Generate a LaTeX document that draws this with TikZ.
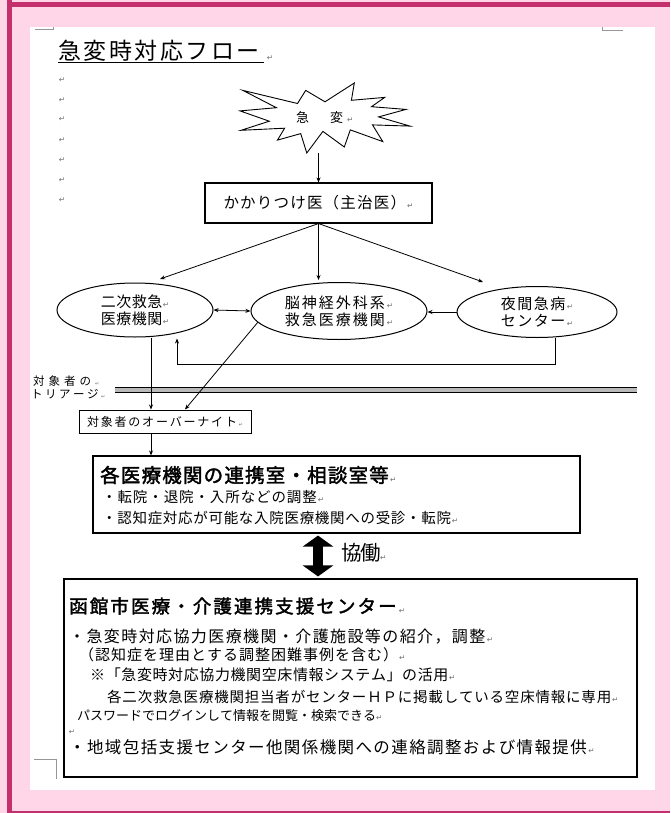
\documentclass[tikz,border=0pt]{standalone}
\usepackage{fontspec}
\usetikzlibrary{arrows.meta,shapes.geometric,calc}
\newfontfamily\jp{Noto Sans CJK JP}
\newfontfamily\jpb[FakeBold=2]{Noto Sans CJK JP}
\newfontfamily\dv{DejaVu Sans}
\definecolor{pinkbg}{RGB}{255,214,232}
\definecolor{framec}{RGB}{196,48,110}
\definecolor{retc}{RGB}{110,110,110}
\definecolor{markc}{RGB}{150,150,150}
\newlength\jspcw
\def\jspcend{}
\newcommand\jspc[2]{\setlength\jspcw{#1}\jspcloop#2\jspcend}
\def\jspcloop#1{\ifx#1\jspcend\else\makebox[\jspcw][l]{#1}\expandafter\jspcloop\fi}
\newcommand\retm[1][7.5]{{\dv\fontsize{#1}{#1}\selectfont\color{retc}↵}}
\tikzset{
 arr/.style={-{Stealth[length=5pt,width=4pt]}, line width=0.8pt},
 arrtwo/.style={{Stealth[length=5pt,width=4pt]}-{Stealth[length=5pt,width=4pt]}, line width=0.8pt},
 boxn/.style={draw, line width=1.1pt, rectangle, inner sep=0},
 ell/.style={draw, ellipse, line width=1pt, inner sep=0, align=center, font={\jp\fontsize{15}{17}\selectfont}},
 tx/.style={anchor=west, inner sep=0},
 retn/.style={inner sep=0},
 cmark/.style={draw=markc, line width=0.8pt},
}
\begin{document}
\begin{tikzpicture}[x=1pt,y=-1pt]
\useasboundingbox (0,0) rectangle (670,813);
\fill[pinkbg] (0,0) rectangle (670,813);
\draw[framec, line width=5pt] (9.5,0) -- (9.5,813);
\draw[framec, line width=5pt] (7,4.5) -- (670,4.5);
\draw[framec, line width=2pt] (7,812) -- (670,812);
\fill[white] (30,27) rectangle (655,790);
% corner marks
\draw[cmark] (35,29.5) -- (53,29.5) -- (53,27);
\draw[cmark] (602,27) -- (602,30) -- (623,30);
\draw[cmark] (34,759) -- (56,759) -- (56,779);
% title
\node[tx] (title) at (58,51) {\fontsize{23}{23}\selectfont\jp\jspc{25.5pt}{急変時対応フロー}};
\draw[line width=0.8pt] (58,62) -- (264,62);
\node[retn] (tret) at (270,58) {\retm};
\foreach \yy [count=\i] in {80,100,119,140,160,180,200} \node[retn] (lr\i) at (62,\yy) {\retm};
% starburst
\node[minimum width=170pt, minimum height=70pt, inner sep=0] (star) at (325,118) {};
\draw[line width=0.9pt, fill=white] (325.0,101.8) -- (305.7,90.4) -- (297.5,103.5) -- (242.9,90.4) -- (276.4,107.7) -- (240,110.9) -- (269.3,121.2) -- (241.1,130.3) -- (284.6,128.2) -- (277.5,140.1) -- (300.7,133.6) -- (306.8,153.0) -- (322.9,131.4) -- (344.3,147.0) -- (350.3,129.9) -- (382.8,141.6) -- (372.5,124.9) -- (410.0,126.1) -- (378.6,116.9) -- (406.0,109.4) -- (371.5,106.7) -- (384.7,97.4) -- (351.4,100.3) -- (354.3,83.0) -- cycle;
\node[tx] (startxt) at (296,118) {\fontsize{13}{13}\selectfont\jp\jspc{17pt}{急　変}\retm};
% primary doctor
\node[boxn, minimum width=227pt, minimum height=40pt] (kk) at (318.5,203) {\fontsize{15.5}{15.5}\selectfont\jp\jspc{16.7pt}{かかりつけ医（主治医）}\retm};
\draw[arr] (star.south -| kk.north) -- (kk.north);
% ellipses
\node[ell, minimum width=156pt, minimum height=54pt] (e1) at (135,310) {\jspc{15.5pt}{二次救急}\retm\\\jspc{15.5pt}{医療機関}\retm};
\node[ell, minimum width=176pt, minimum height=57pt] (e2) at (339,311) {\jspc{17pt}{脳神経外科系}\retm\\\jspc{17pt}{救急医療機関}\retm};
\node[ell, minimum width=160pt, minimum height=51pt] (e3) at (537,312) {\jspc{16.5pt}{夜間急病}\retm\\\jspc{16.5pt}{センター}\retm};
\coordinate (a1) at (160,279);
\coordinate (a2) at (318.5,280);
\coordinate (a3) at (483,282);
\draw[arr] (kk.south) -- (a1);
\draw[arr] (kk.south) -- (a2);
\draw[arr] (kk.south) -- (a3);
\draw[arrtwo] (e1.east) -- (e2.west);
\draw[arr] (e3.west) -- (e3.west -| e2.east);
\draw[arr] ($(e3.south)+(18,0)$) -- ++(0,26) -| ($(e1.south)+(42,1)$);
% triage
\node[tx] (tr1) at (33,381) {\fontsize{11.5}{11.5}\selectfont\jp\jspc{15.5pt}{対象者の}\retm[5]};
\node[tx] (tr2) at (31,394) {\fontsize{11.5}{11.5}\selectfont\jp\jspc{14pt}{トリアージ}\retm[5]};
\fill[gray!55] (115,387) rectangle (637,393);
\draw[line width=1.2pt] (115,387.6) -- (637,387.6);
\draw[line width=1.2pt] (115,392.4) -- (637,392.4);
% overnight
\node[boxn, line width=1pt, minimum width=172pt, minimum height=23pt] (on) at (165,421.5) {\fontsize{12}{12}\selectfont\jp\jspc{13.8pt}{対象者のオーバーナイト}\retm[5]};
\coordinate (v1) at ($(e1.south)+(16,0)$);
\draw[arr] (v1) -- (v1 |- on.north);
\draw[arr] (e2.188) -- ($(on.north)+(20,0)$);
% box 1
\node[boxn, minimum width=487pt, minimum height=77pt] (b1) at (336.5,494.5) {};
\draw[arr] (on.south -| v1) -- (v1 |- b1.north);
\node[tx] (b1t) at (100,475) {\fontsize{19.5}{19.5}\selectfont\jpb\jspc{20.7pt}{各医療機関の連携室・相談室等}\retm};
\node[tx] (b1a) at (102,497) {\fontsize{14.5}{14.5}\selectfont\jp\jspc{15.4pt}{・転院・退院・入所などの調整}\retm};
\node[tx] (b1b) at (102,518) {\fontsize{14.5}{14.5}\selectfont\jp\jspc{15.2pt}{・認知症対応が可能な入院医療機関への受診・転院}\retm};
% box 2
\node[boxn, minimum width=573pt, minimum height=198pt] (b2) at (350.5,678) {};
\coordinate (ba) at (318,0);
\draw[line width=10pt, {Triangle[width=30pt,length=11pt]}-{Triangle[width=30pt,length=11pt]}, shorten <=2pt, shorten >=2pt] (b1.south -| ba) -- (b2.north -| ba);
\node[tx] (kd) at (341,553) {\fontsize{20.5}{20.5}\selectfont\jp\jspc{19.5pt}{協働}\retm};
\node[tx] (b2t) at (69,606) {\fontsize{18.5}{18.5}\selectfont\jpb\jspc{20.6pt}{函館市医療・介護連携支援センター}\retm};
\node[tx] (b2a) at (69,637) {\fontsize{16}{16}\selectfont\jp\jspc{17.4pt}{・急変時対応協力医療機関・介護施設等の紹介，調整}\retm};
\node[tx] (b2b) at (79,655) {\fontsize{15}{15}\selectfont\jp\jspc{16pt}{（認知症を理由とする調整困難事例を含む）}\retm};
\node[tx] (b2c) at (90,675) {\fontsize{15}{15}\selectfont\jp\jspc{15.6pt}{※「急変時対応協力機関空床情報システム」の活用}\retm};
\node[tx] (b2d) at (107,697) {\fontsize{14.5}{14.5}\selectfont\jp\jspc{15.3pt}{各二次救急医療機関担当者がセンターＨＰに掲載している空床情報に専用}\retm};
\node[tx] (b2e) at (77,716) {\fontsize{13}{13}\selectfont\jp\jspc{13pt}{パスワードでログインして情報を閲覧・検索できる}\retm};
\node[retn] (b2r) at (72,732) {\retm};
\node[tx] (b2f) at (69,747) {\fontsize{16.5}{16.5}\selectfont\jp\jspc{17.9pt}{・地域包括支援センター他関係機関への連絡調整および情報提供}\retm};
\end{tikzpicture}
\end{document}
